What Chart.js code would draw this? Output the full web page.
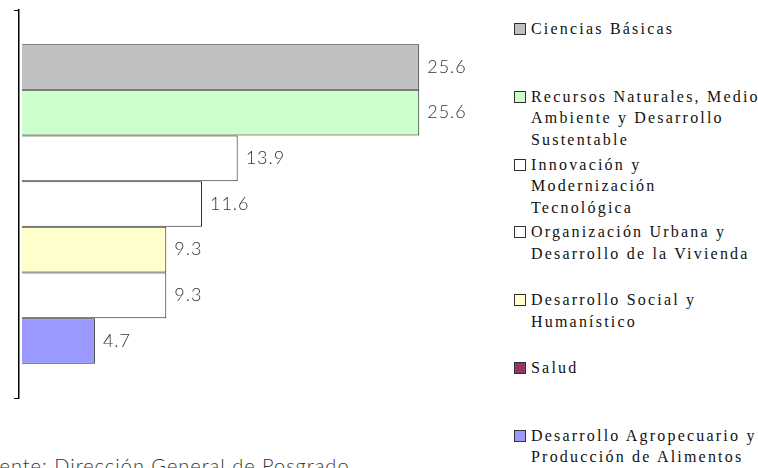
<!DOCTYPE html>
<html>
<head>
<meta charset="utf-8">
<script src="https://cdn.jsdelivr.net/npm/chart.js@4.4.0/dist/chart.umd.min.js"></script>
<style>
  body { margin: 0; background: #fff; width: 758px; height: 468px; overflow: hidden; position: relative; }
  #chartBox { position: absolute; left: 0; top: 0; width: 490px; height: 410px; }
  #legend { position: absolute; left: 514px; top: 0; width: 244px; }
  .leg-item { position: absolute; left: 0; display: flex; align-items: flex-start; }
  .leg-box { width: 10px; height: 10px; border: 1px solid #333; margin-top: 5px; margin-right: 5px; flex: none; }
  .leg-text { font-family: "Liberation Serif", "Times New Roman", serif; font-size: 16px; line-height: 21.5px; color: #111; letter-spacing: 2.2px; white-space: nowrap; }
  #source { position: absolute; left: -24px; top: 453px; font-family: "Lato", "Open Sans", sans-serif; font-weight: 300; font-size: 20px; line-height: 24px; letter-spacing: 1px; color: #333; white-space: nowrap; }
</style>
</head>
<body>
<div id="chartBox"><canvas id="barChart"></canvas></div>
<div id="legend"></div>
<div id="source">Fuente: Dirección General de Posgrado</div>
<script>
// Areas (legend lines, as printed)
const categories = [
    ['Ciencias Básicas'],
    ['Recursos Naturales, Medio', 'Ambiente y Desarrollo', 'Sustentable'],
    ['Innovación y', 'Modernización', 'Tecnológica'],
    ['Organización Urbana y', 'Desarrollo de la Vivienda'],
    ['Desarrollo Social y', 'Humanístico'],
    ['Salud'],
    ['Desarrollo Agropecuario y', 'Producción de Alimentos']
];
const values = [25.6, 25.6, 13.9, 11.6, 9.3, 9.3, 4.7];
const barColors = ['#C0C0C0', '#CCFFCC', '#FFFFFF', '#FFFFFF', '#FFFFCC', '#FFFFFF', '#9999FF'];
const legendColors = ['#C0C0C0', '#CCFFCC', '#FFFFFF', '#FFFFFF', '#FFFFCC', '#993366', '#9999FF'];

// one dataset per area, single category
const datasets = categories.map(function (lines, i) {
    return {
        label: lines.join(' '),
        data: [values[i]],
        backgroundColor: barColors[i],
        borderColor: '#222',
        borderWidth: 1,
        barPercentage: 1,
        categoryPercentage: 0.824
    };
});

// value labels at the end of each bar
const valueLabels = {
    id: 'valueLabels',
    afterDatasetsDraw(chart) {
        const ctx = chart.ctx;
        ctx.save();
        ctx.font = '300 18px Lato, "Open Sans", sans-serif';
        ctx.letterSpacing = '1px';
        ctx.fillStyle = '#333';
        ctx.textBaseline = 'middle';
        chart.data.datasets.forEach(function (ds, i) {
            chart.getDatasetMeta(i).data.forEach(function (bar, j) {
                ctx.fillText(ds.data[j].toFixed(1), bar.x + 8, bar.y);
            });
        });
        ctx.restore();
    }
};

new Chart(document.getElementById('barChart'), {
    type: 'bar',
    data: { labels: [''], datasets: datasets },
    options: {
        indexAxis: 'y',
        responsive: true,
        maintainAspectRatio: false,
        animation: false,
        layout: { padding: { left: 14, top: 10, bottom: 12, right: 0 } },
        plugins: { legend: { display: false }, tooltip: { enabled: false } },
        scales: {
            x: { display: false, min: -0.19, max: 30.16 },
            y: {
                ticks: { display: false },
                grid: { drawOnChartArea: false, tickLength: 5, color: '#000', lineWidth: 1 },
                border: { color: '#000', width: 1.5 }
            }
        }
    },
    plugins: [valueLabels]
});

// legend
const legendEl = document.getElementById('legend');
categories.forEach(function (lines, i) {
    const item = document.createElement('div');
    item.className = 'leg-item';
    item.style.top = (18 + i * 67.8) + 'px';
    const box = document.createElement('div');
    box.className = 'leg-box';
    box.style.background = legendColors[i];
    const txt = document.createElement('div');
    txt.className = 'leg-text';
    txt.innerHTML = lines.join('<br>');
    item.appendChild(box);
    item.appendChild(txt);
    legendEl.appendChild(item);
});
</script>
</body>
</html>
